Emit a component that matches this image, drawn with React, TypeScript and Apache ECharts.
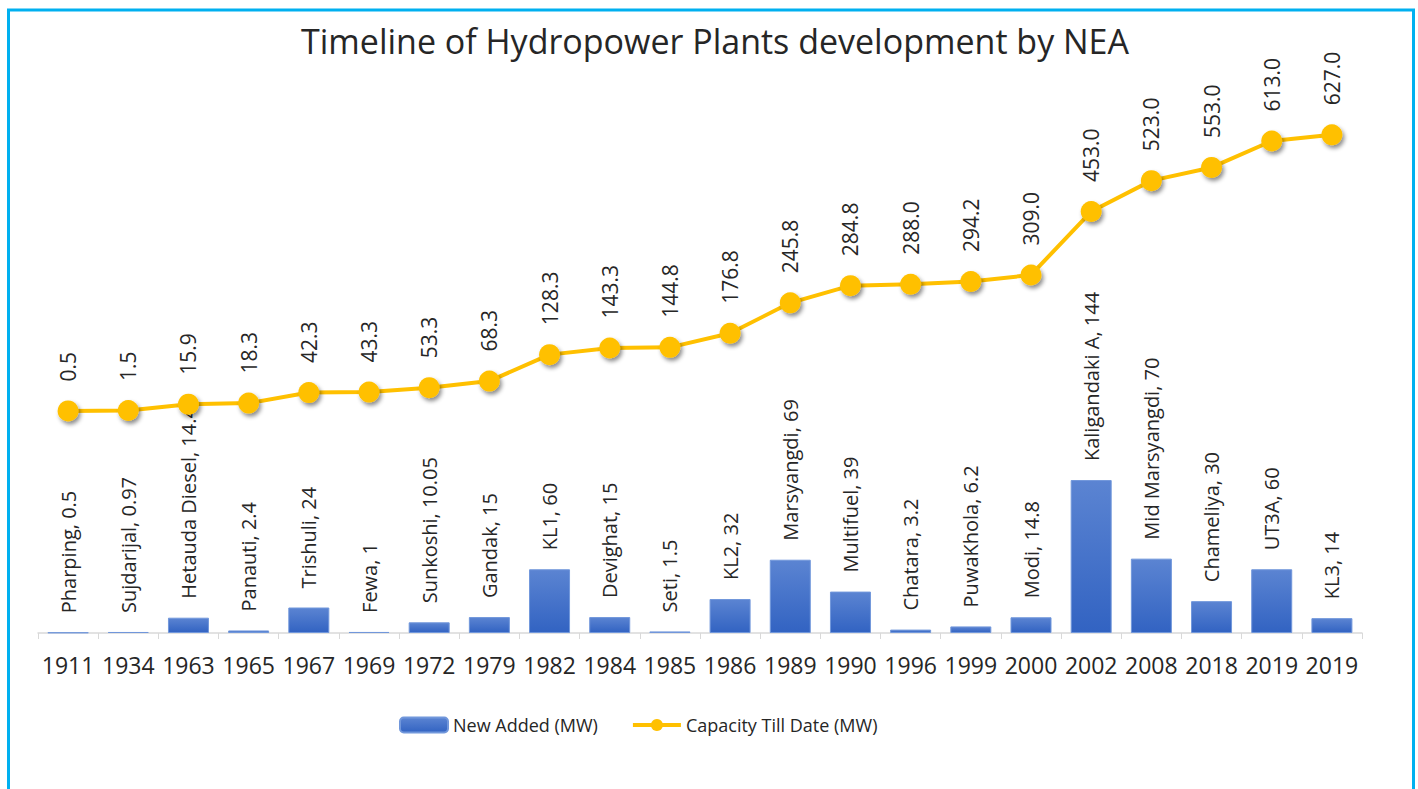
import React, { useEffect, useRef } from "react";
import * as echarts from "echarts";

const years = ["1911", "1934", "1963", "1965", "1967", "1969", "1972", "1979", "1982", "1984", "1985", "1986", "1989", "1990", "1996", "1999", "2000", "2002", "2008", "2018", "2019", "2019"];
const plantNames = ["Pharping", "Sujdarijal", "Hetauda Diesel", "Panauti", "Trishuli", "Fewa", "Sunkoshi", "Gandak", "KL1", "Devighat", "Seti", "KL2", "Marsyangdi", "Multifuel", "Chatara", "PuwaKhola", "Modi", "Kaligandaki A", "Mid Marsyangdi", "Chameliya", "UT3A", "KL3"];
const newAdded = [0.5, 0.97, 14.41, 2.4, 24, 1, 10.05, 15, 60, 15, 1.5, 32, 69, 39, 3.2, 6.2, 14.8, 144, 70, 30, 60, 14];
const capacityTillDate = [0.5, 1.5, 15.9, 18.3, 42.3, 43.3, 53.3, 68.3, 128.3, 143.3, 144.8, 176.8, 245.8, 284.8, 288.0, 294.2, 309.0, 453.0, 523.0, 553.0, 613.0, 627.0];
const capacityLabels = ["0.5", "1.5", "15.9", "18.3", "42.3", "43.3", "53.3", "68.3", "128.3", "143.3", "144.8", "176.8", "245.8", "284.8", "288.0", "294.2", "309.0", "453.0", "523.0", "553.0", "613.0", "627.0"];

const FONT = "Open Sans";
const TEXT = "#262626";

export default function App() {
  const ref = useRef<HTMLDivElement>(null);
  useEffect(() => {
    if (!ref.current) return;
    const chart = echarts.init(ref.current, undefined, { renderer: "svg" });
    chart.setOption({
      animation: false,
      backgroundColor: "#ffffff",
      title: {
        text: "Timeline of Hydropower Plants development by NEA",
        left: 296,
        top: 19,
        textStyle: { fontFamily: FONT, fontSize: 34, fontWeight: "normal", color: TEXT },
      },
      graphic: [
        {
          type: "rect",
          shape: { x: 8.5, y: 10, width: 1405, height: 820 },
          style: { fill: "none", stroke: "#00B0F0", lineWidth: 3 },
          silent: true,
        },
      ],
      legend: {
        left: 394,
        top: 711,
        itemWidth: 48,
        itemHeight: 15,
        itemGap: 33,
        textStyle: { fontFamily: FONT, fontSize: 18, color: TEXT },
        lineStyle: { width: 4 },
        data: ["New Added (MW)", "Capacity Till Date (MW)"],
      },
      grid: { left: 38, right: 56, top: 60, bottom: 156 },
      xAxis: {
        type: "category",
        data: years,
        axisLine: { lineStyle: { color: "#D9D9D9", width: 1.5 } },
        axisTick: { show: true, length: 6, lineStyle: { color: "#D9D9D9" } },
        axisLabel: { fontFamily: FONT, fontSize: 23, color: TEXT, margin: 20, interval: 0 },
      },
      yAxis: [
        { type: "value", min: 0, max: 539.5, show: false, splitLine: { show: false } },
        { type: "value", min: -503.2, max: 796.7, show: false, splitLine: { show: false } },
      ],
      series: [
        {
          name: "New Added (MW)",
          type: "bar",
          yAxisIndex: 0,
          barWidth: 41,
          data: newAdded,
          itemStyle: {
            color: new echarts.graphic.LinearGradient(0, 0, 0, 1, [
              { offset: 0, color: "#5B84D2" },
              { offset: 1, color: "#3263C2" },
            ]),
            borderColor: "#7197DB",
            borderWidth: 1,
          },
          label: {
            show: true,
            position: "top",
            rotate: 90,
            align: "left",
            verticalAlign: "middle",
            distance: 19,
            fontFamily: FONT,
            fontSize: 20,
            color: TEXT,
            formatter: (p: any) => `${plantNames[p.dataIndex]}, ${newAdded[p.dataIndex]}`,
          },
        },
        {
          name: "Capacity Till Date (MW)",
          type: "line",
          yAxisIndex: 1,
          data: capacityTillDate,
          symbol: "circle",
          symbolSize: 21,
          lineStyle: { color: "#FFC000", width: 4 },
          itemStyle: {
            color: "#FFC000",
            shadowColor: "rgba(0,0,0,0.45)",
            shadowBlur: 4,
            shadowOffsetX: 2,
            shadowOffsetY: 3,
          },
          label: {
            show: true,
            position: "top",
            rotate: 90,
            align: "left",
            verticalAlign: "middle",
            distance: 19,
            fontFamily: FONT,
            fontSize: 21,
            color: TEXT,
            formatter: (p: any) => capacityLabels[p.dataIndex],
          },
        },
      ],
    });
    return () => chart.dispose();
  }, []);
  return <div ref={ref} style={{ position: "absolute", left: 0, top: 0, width: 1418, height: 789 }} />;
}
